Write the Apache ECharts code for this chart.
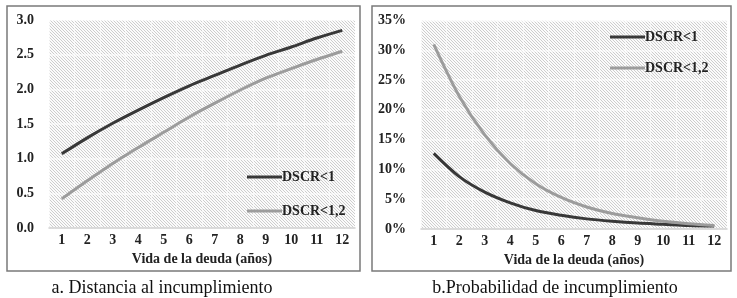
<!DOCTYPE html>
<html>
<head>
<meta charset="utf-8">
<script src="https://cdn.jsdelivr.net/npm/echarts@6/dist/echarts.min.js"></script>
<style>
  html, body { margin: 0; padding: 0; background: #fff; }
  #chart { width: 737px; height: 298px; }
</style>
</head>
<body>
<div id="chart"></div>
<script>
// datos
var years = ['1','2','3','4','5','6','7','8','9','10','11','12'];
var distDSCR1 = [1.07, 1.30, 1.51, 1.70, 1.88, 2.05, 2.20, 2.35, 2.49, 2.61, 2.74, 2.85];
var distDSCR12 = [0.42, 0.68, 0.93, 1.16, 1.38, 1.60, 1.80, 1.99, 2.16, 2.30, 2.43, 2.55];
var probDSCR1 = [12.7, 8.8, 6.2, 4.4, 3.1, 2.3, 1.7, 1.3, 1.0, 0.8, 0.6, 0.5];
var probDSCR12 = [31.0, 22.3, 15.8, 11.0, 7.6, 5.3, 3.7, 2.6, 1.9, 1.3, 0.9, 0.6];
var names = ['DSCR<1', 'DSCR<1,2'];
var titles = ['a. Distancia al incumplimiento', 'b.Probabilidad de incumplimiento'];
var xName = 'Vida de la deuda (años)';

// trama rayada del fondo
var tile = document.createElement('canvas');
tile.width = 3; tile.height = 3;
var ctx = tile.getContext('2d');
ctx.fillStyle = '#fbfbfb';
ctx.fillRect(0, 0, 3, 3);
ctx.strokeStyle = '#cdcdcd';
ctx.lineWidth = 1;
ctx.beginPath();
ctx.moveTo(-1, -1); ctx.lineTo(4, 4);
ctx.moveTo(-1, 2); ctx.lineTo(1, 4);
ctx.moveTo(2, -1); ctx.lineTo(4, 1);
ctx.stroke();
var hatch = { image: tile, repeat: 'repeat' };

var font = 'Liberation Serif, Times New Roman, serif';
var dark = '#383838', light = '#9c9c9c';

function xAxis(idx) {
  return {
    type: 'category', gridIndex: idx, data: years,
    name: xName, nameLocation: 'middle', nameGap: 20,
    nameTextStyle: { fontFamily: font, fontWeight: 'bold', fontSize: 14, color: '#222' },
    axisLine: { lineStyle: { color: '#d0d0d0', width: 1.5 } },
    axisTick: { show: false },
    axisLabel: { margin: 5, fontFamily: font, fontWeight: 'bold', fontSize: 14, color: '#222' },
    splitLine: { show: true, lineStyle: { color: 'rgba(255,255,255,0.6)', width: 1 } }
  };
}

var chart = echarts.init(document.getElementById('chart'));
chart.setOption({
  animation: false,
  title: [
    { text: titles[0], left: 157, top: 274, textAlign: 'center',
      textStyle: { fontFamily: font, fontWeight: 'normal', fontSize: 18, color: '#111' } },
    { text: titles[1], left: 550, top: 274, textAlign: 'center',
      textStyle: { fontFamily: font, fontWeight: 'normal', fontSize: 18, color: '#111' } }
  ],
  graphic: [
    { type: 'rect', shape: { x: 7, y: 6, width: 353, height: 265 }, z: -10,
      style: { fill: null, stroke: '#7a7a7a', lineWidth: 1.5 } },
    { type: 'rect', shape: { x: 372, y: 6, width: 359, height: 265 }, z: -10,
      style: { fill: null, stroke: '#7a7a7a', lineWidth: 1.5 } }
  ],
  legend: [
    { data: names.map(function (n) { return { name: n, itemStyle: { color: n === names[0] ? dark : light } }; }),
      left: 242, top: 165, orient: 'vertical', itemGap: 20, icon: 'rect',
      itemWidth: 35, itemHeight: 3,
      textStyle: { fontFamily: font, fontWeight: 'bold', fontSize: 14, color: '#222', padding: [0, 0, 0, -5] } },
    { data: names.map(function (n) { return { name: n + ' ', itemStyle: { color: n === names[0] ? dark : light } }; }),
      left: 605, top: 25, orient: 'vertical', itemGap: 17, icon: 'rect',
      itemWidth: 35, itemHeight: 3,
      textStyle: { fontFamily: font, fontWeight: 'bold', fontSize: 14, color: '#222', padding: [0, 0, 0, -5] } }
  ],
  grid: [
    { left: 49, top: 20, width: 306, height: 208, show: true, backgroundColor: hatch, borderWidth: 0 },
    { left: 421, top: 20.5, width: 306, height: 208.5, show: true, backgroundColor: hatch, borderWidth: 0 }
  ],
  xAxis: [xAxis(0), xAxis(1)],
  yAxis: [
    { type: 'value', gridIndex: 0, min: 0, max: 3, interval: 0.5,
      axisLine: { show: false }, axisTick: { show: false },
      axisLabel: { margin: 15, fontFamily: font, fontWeight: 'bold', fontSize: 14, color: '#222',
        formatter: function (v) { return v.toFixed(1); } },
      splitLine: { lineStyle: { color: 'rgba(255,255,255,0.7)', width: 1.5 } } },
    { type: 'value', gridIndex: 1, min: 0, max: 35, interval: 5,
      axisLine: { show: false }, axisTick: { show: false },
      axisLabel: { margin: 15, fontFamily: font, fontWeight: 'bold', fontSize: 14, color: '#222',
        formatter: '{value}%' },
      splitLine: { lineStyle: { color: 'rgba(255,255,255,0.7)', width: 1.5 } } }
  ],
  series: [
    { name: names[0], type: 'line', xAxisIndex: 0, yAxisIndex: 0, data: distDSCR1,
      smooth: 0.3, showSymbol: false, lineStyle: { color: dark, width: 3 }, itemStyle: { color: dark } },
    { name: names[1], type: 'line', xAxisIndex: 0, yAxisIndex: 0, data: distDSCR12,
      smooth: 0.3, showSymbol: false, lineStyle: { color: light, width: 3 }, itemStyle: { color: light } },
    { name: names[0] + ' ', type: 'line', xAxisIndex: 1, yAxisIndex: 1, data: probDSCR1,
      smooth: 0.3, showSymbol: false, lineStyle: { color: dark, width: 3 }, itemStyle: { color: dark } },
    { name: names[1] + ' ', type: 'line', xAxisIndex: 1, yAxisIndex: 1, data: probDSCR12,
      smooth: 0.3, showSymbol: false, lineStyle: { color: light, width: 3 }, itemStyle: { color: light } }
  ]
});
</script>
</body>
</html>
